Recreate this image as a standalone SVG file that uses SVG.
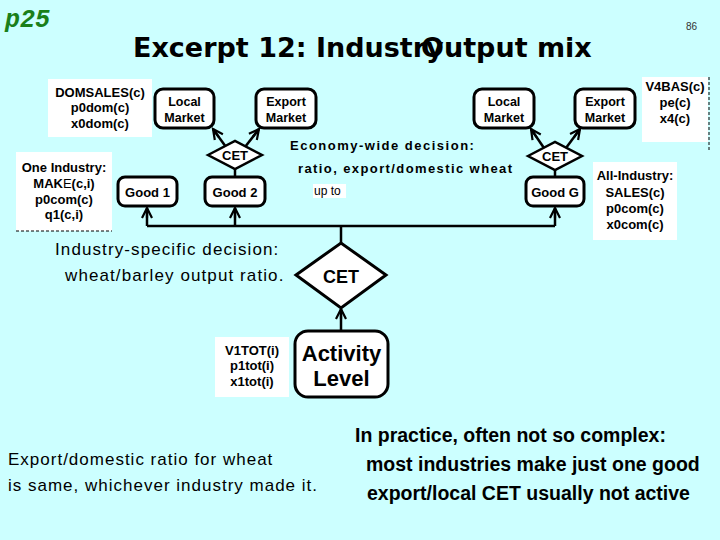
<svg xmlns="http://www.w3.org/2000/svg" width="720" height="540" viewBox="0 0 720 540">
<defs>
<marker id="arr" viewBox="-12 -7 14 14" refX="0" refY="0" markerWidth="14" markerHeight="14" orient="auto" markerUnits="userSpaceOnUse">
<path d="M-10,-5 L0,0 L-10,5 M-10,0 L0,0" fill="none" stroke="#000" stroke-width="2.2"/>
</marker>
<style>
.bg{fill:#CCFFFF}
.rbox{fill:#fff;stroke:#000;stroke-width:3}
.wbox{fill:#fff}
.dia{fill:#fff;stroke:#000;stroke-width:2.5}
.con{stroke:#000;stroke-width:2.5;fill:none}
.dash{stroke:#000;stroke-width:1;stroke-dasharray:3,2;fill:none}
.lbl{font-family:"Liberation Sans",Arial,sans-serif;font-weight:bold;font-size:12.5px;text-anchor:middle;fill:#000}
.s13{font-size:13px}
.s18{font-size:18px}
.s22{font-size:22px}
.info{font-family:"Liberation Sans",Arial,sans-serif;font-weight:bold;font-size:13px;text-anchor:middle;fill:#000}
.note{font-family:"Liberation Sans",Arial,sans-serif;fill:#000}
</style>
</defs>
<rect class="bg" x="0" y="0" width="720" height="540"/>

<text x="5" y="27" font-family="Liberation Mono,monospace" font-weight="bold" font-style="italic" font-size="25" fill="#1a7f1a">p25</text>
<text x="686" y="30" font-family="Liberation Sans,Arial,sans-serif" font-size="10" fill="#333">86</text>
<text x="133" y="57" font-family="DejaVu Sans,sans-serif" font-weight="bold" font-size="27" fill="#000">Excerpt 12: Industry</text>
<text x="421" y="57" font-family="DejaVu Sans,sans-serif" font-weight="bold" font-size="27" fill="#000">Output mix</text>

<g id="connectors">
<line class="con" x1="226" y1="147" x2="213" y2="129" marker-end="url(#arr)"/>
<line class="con" x1="245" y1="147" x2="259" y2="129" marker-end="url(#arr)"/>
<line class="con" x1="235" y1="168" x2="235" y2="177"/>
<line class="con" x1="544" y1="148" x2="531" y2="129" marker-end="url(#arr)"/>
<line class="con" x1="566" y1="148" x2="580" y2="129" marker-end="url(#arr)"/>
<line class="con" x1="555" y1="169" x2="555" y2="177"/>
<line class="con" x1="147" y1="226" x2="555" y2="226"/>
<line class="con" x1="147" y1="226" x2="147" y2="208" marker-end="url(#arr)"/>
<line class="con" x1="235" y1="226" x2="235" y2="208" marker-end="url(#arr)"/>
<line class="con" x1="555" y1="226" x2="555" y2="208" marker-end="url(#arr)"/>
<line class="con" x1="341" y1="226" x2="341" y2="244"/>
<line class="con" x1="341" y1="331" x2="341" y2="309" marker-end="url(#arr)"/>
</g>

<g id="domsales">
<rect class="wbox" x="48" y="79" width="104" height="58"/>
<text class="info" x="100" y="97">DOMSALES(c)</text>
<text class="info" x="100" y="112">p0dom(c)</text>
<text class="info" x="100" y="128">x0dom(c)</text>
</g>
<g id="local-market-1">
<rect class="rbox" x="155" y="89" width="59" height="39" rx="8"/>
<text class="lbl" x="184.5" y="106">Local</text>
<text class="lbl" x="184.5" y="122">Market</text>
</g>
<g id="export-market-1">
<rect class="rbox" x="256" y="89" width="60" height="39" rx="8"/>
<text class="lbl" x="286" y="106">Export</text>
<text class="lbl" x="286" y="122">Market</text>
</g>
<g id="cet-1">
<polygon class="dia" points="208,155 235,141 262,155 235,169"/>
<text class="lbl s13" x="235" y="160">CET</text>
</g>
<g id="good-1">
<rect class="rbox" x="118" y="177" width="59" height="29" rx="7"/>
<text class="lbl s13" x="147.5" y="197">Good 1</text>
</g>
<g id="good-2">
<rect class="rbox" x="205" y="177" width="60" height="29" rx="7"/>
<text class="lbl s13" x="235" y="197">Good 2</text>
</g>
<g id="one-industry">
<rect class="wbox" x="16" y="152" width="96" height="79"/>
<line class="dash" x1="16" y1="231" x2="112" y2="231"/>
<text class="info" x="64" y="172">One Industry:</text>
<text class="info" x="64" y="188">MAK<tspan font-weight="normal">E</tspan>(c,i)</text>
<text class="info" x="64" y="204">p0com(c)</text>
<text class="info" x="64" y="219">q1(c,i)</text>
</g>
<g id="local-market-2">
<rect class="rbox" x="474" y="89" width="60" height="39" rx="8"/>
<text class="lbl" x="504" y="106">Local</text>
<text class="lbl" x="504" y="122">Market</text>
</g>
<g id="export-market-2">
<rect class="rbox" x="575" y="89" width="60" height="39" rx="8"/>
<text class="lbl" x="605" y="106">Export</text>
<text class="lbl" x="605" y="122">Market</text>
</g>
<g id="cet-2">
<polygon class="dia" points="528,156 555,142 582,156 555,170"/>
<text class="lbl s13" x="555" y="161">CET</text>
</g>
<g id="good-g">
<rect class="rbox" x="526" y="177" width="58" height="29" rx="7"/>
<text class="lbl s13" x="555" y="197">Good G</text>
</g>
<g id="v4bas">
<rect class="wbox" x="642" y="77" width="66" height="65"/>
<line class="dash" x1="709" y1="77" x2="709" y2="150"/>
<text class="info" x="675" y="91">V4BAS(c)</text>
<text class="info" x="675" y="107">pe(c)</text>
<text class="info" x="675" y="123">x4(c)</text>
</g>
<g id="all-industry">
<rect class="wbox" x="593" y="162" width="84" height="78"/>
<text class="info" x="635" y="180">All-Industry:</text>
<text class="info" x="635" y="197">SALES(c)</text>
<text class="info" x="635" y="213">p0com(c)</text>
<text class="info" x="635" y="229">x0com(c)</text>
</g>
<g id="cet-main">
<polygon class="dia" points="296,275 341,243 386,275 341,308" style="stroke-width:3"/>
<text class="lbl s18" x="341" y="283">CET</text>
</g>
<g id="activity-level">
<rect class="rbox" x="295" y="331" width="93" height="66" rx="13"/>
<text class="lbl s22" x="341.5" y="361">Activity</text>
<text class="lbl s22" x="341.5" y="386">Level</text>
</g>
<g id="v1tot">
<rect class="wbox" x="215" y="337" width="74" height="60"/>
<text class="info" x="252" y="355">V1TOT(i)</text>
<text class="info" x="252" y="370">p1tot(i)</text>
<text class="info" x="252" y="386">x1tot(i)</text>
</g>

<g id="notes">
<text class="note" x="290" y="150" font-size="13" font-weight="bold" letter-spacing="1.5">Economy-wide decision:</text>
<text class="note" x="298" y="173" font-size="13" font-weight="bold" letter-spacing="1.4">ratio, export/domestic wheat</text>
<rect x="313" y="184" width="33" height="14" fill="#fff"/>
<text class="note" x="314" y="195" font-size="12">up to</text>
<text class="note" x="55" y="255" font-size="17" letter-spacing="1.1">Industry-specific decision:</text>
<text class="note" x="65" y="281" font-size="17" letter-spacing="1.1">wheat/barley output ratio.</text>
<text class="note" x="8" y="465" font-size="17" letter-spacing="1">Export/domestic ratio for wheat</text>
<text class="note" x="8" y="491" font-size="17" letter-spacing="1">is same, whichever industry made it.</text>
<text class="note" x="355" y="442" font-size="19.5" font-weight="bold">In practice, often not so complex:</text>
<text class="note" x="366" y="471" font-size="19.5" font-weight="bold">most industries make just one good</text>
<text class="note" x="367" y="500" font-size="19.5" font-weight="bold">export/local CET usually not active</text>
</g>
</svg>
